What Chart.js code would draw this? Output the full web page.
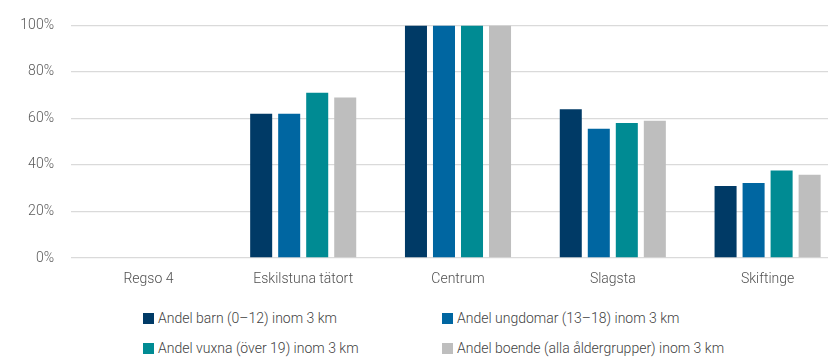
<!DOCTYPE html>
<html>
<head>
<meta charset="utf-8">
<script src="https://cdn.jsdelivr.net/npm/chart.js@4"></script>
<style>
  html, body { margin: 0; padding: 0; background: #fff; overflow: hidden; }
  #wrap { position: relative; width: 828px; height: 358px; overflow: hidden; font-family: Roboto, sans-serif; }
  #box { position: absolute; left: 0; top: 0; width: 845px; height: 300px; }
  .leg { position: absolute; font-size: 14px; font-weight: 300; color: #3f3f3f; white-space: nowrap; line-height: 16px; }
  .leg i { display: inline-block; width: 11px; height: 11px; margin-right: 4px; vertical-align: -1px; }
</style>
</head>
<body>
<div id="wrap">
  <div id="box"><canvas id="chart"></canvas></div>
  <div id="legend"></div>
</div>
<script>
const categories = ['Regso 4', 'Eskilstuna tätort', 'Centrum', 'Slagsta', 'Skiftinge'];
const seriesNames = [
  'Andel barn (0–12) inom 3 km',
  'Andel ungdomar (13–18) inom 3 km',
  'Andel vuxna (över 19) inom 3 km',
  'Andel boende (alla åldergrupper) inom 3 km'
];
const barn = [0, 62, 100, 64, 31];
const ungdomar = [0, 62, 100, 55.6, 32.2];
const vuxna = [0, 71, 100, 58, 37.6];
const boende = [0, 69, 100, 59, 35.8];
const colors = ['#003a66', '#0066a1', '#008b93', '#bebebe'];
const yTicks = [0, 20, 40, 60, 80, 100];

const seriesValues = [barn, ungdomar, vuxna, boende];

new Chart(document.getElementById('chart'), {
  type: 'bar',
  data: {
    labels: categories,
    datasets: seriesValues.map((vals, i) => ({
      label: seriesNames[i],
      data: vals,
      backgroundColor: colors[i],
      borderWidth: 0,
      categoryPercentage: 0.724,
      barPercentage: 0.786
    }))
  },
  options: {
    responsive: true,
    maintainAspectRatio: false,
    animation: false,
    layout: { padding: { top: 17, right: 0, bottom: 0, left: 0 } },
    plugins: { legend: { display: false }, tooltip: { enabled: false } },
    scales: {
      x: {
        grid: { display: false },
        border: { display: false },
        ticks: { color: '#505050', font: { family: 'Roboto', size: 14, weight: 300 }, padding: 5 },
        afterFit: s => { s.height = 42; }
      },
      y: {
        min: 0,
        max: 100,
        afterBuildTicks: s => { s.ticks = yTicks.map(v => ({ value: v })); },
        grid: { color: '#dadada', lineWidth: 1.3, drawTicks: false },
        border: { display: false },
        ticks: {
          color: '#5a5a5a',
          font: { family: 'Roboto', size: 14, weight: 300 },
          padding: 17,
          callback: v => v + '%'
        },
        afterFit: s => { s.width = 71; }
      }
    }
  }
});

const legendPos = [[143, 310], [442, 310], [143, 340], [442, 340]];
const legend = document.getElementById('legend');
seriesNames.forEach((name, i) => {
  const d = document.createElement('div');
  d.className = 'leg';
  d.style.left = legendPos[i][0] + 'px';
  d.style.top = legendPos[i][1] + 'px';
  d.innerHTML = `<i style="background:${colors[i]}"></i>${name}`;
  legend.appendChild(d);
});
</script>
</body>
</html>
